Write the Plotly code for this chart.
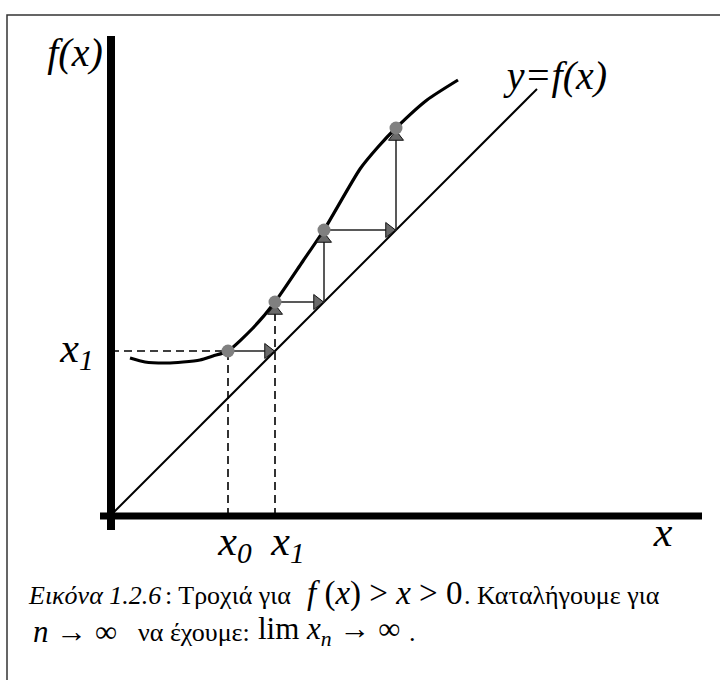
import plotly.graph_objects as go

# Curve y = f(x), sampled points (arbitrary units)
curve_x = [0.17, 0.32, 0.54, 0.70, 0.87, 1.00, 1.15, 1.40, 1.62, 1.90, 2.11, 2.47, 2.65, 2.83, 3.14, 3.45]
curve_y = [1.55, 1.51, 1.50, 1.51, 1.53, 1.57, 1.62, 1.85, 2.11, 2.52, 2.83, 3.44, 3.66, 3.85, 4.13, 4.33]

# Orbit x0, x1, x2, ... of the iteration x_{n+1} = f(x_n)
orbit = [1.15, 1.62, 2.11, 2.83, 3.85]

# End of the diagonal y = x
diag_end = 4.24

# Axis labels
label_text = ["<i>f(x)</i>", "<i>y=f(x)</i>", "<i>x<sub>1</sub></i>",
              "<i>x<sub>0</sub></i>", "<i>x<sub>1</sub></i>", "<i>x</i>"]

SERIF = "Liberation Serif"

fig = go.Figure()


def seg(xs, ys, **line):
    fig.add_trace(go.Scatter(x=xs, y=ys, mode="lines", line=line, hoverinfo="skip"))


# Frame around the figure and caption (left and top edges)
seg([-1.06, -1.06, 6.07], [-1.67, 4.98, 4.98], color="#333333", width=1.5)

# Thick coordinate axes
seg([-0.02, -0.02], [-0.17, 4.77], color="black", width=8)
seg([-0.13, 5.89], [-0.03, -0.03], color="black", width=7)

# Diagonal y = x
seg([0, diag_end], [0, diag_end], color="black", width=2)

# Curve
seg(curve_x, curve_y, color="black", width=3.2, shape="spline", smoothing=0.6)

# Dashed guides for x0 and x1
x0, x1 = orbit[0], orbit[1]
dash = dict(color="black", width=1.6, dash="8px,5px")
seg([-0.02, x0], [x1, x1], **dash)
seg([x0, x0], [-0.03, x1], **dash)
seg([x1, x1], [-0.03, orbit[2]], **dash)

# Cobweb steps: horizontal to the diagonal, then vertical back to the curve
step = dict(color="#222222", width=1.5)
for k in range(3):
    a, b = orbit[k], orbit[k + 1]
    seg([a, b], [b, b], **step)
for k in range(2, 4):
    a, b = orbit[k], orbit[k + 1]
    seg([a, a], [a, b], **step)

# Arrow heads
off = 0.07
tri_style = dict(size=13, color="#6a6a6a", line=dict(color="#111111", width=1))
fig.add_trace(go.Scatter(x=[v - off for v in orbit[1:4]], y=orbit[1:4],
                         mode="markers", marker=dict(symbol="triangle-right", **tri_style),
                         hoverinfo="skip"))
fig.add_trace(go.Scatter(x=orbit[1:4], y=[v - 0.09 for v in orbit[2:5]],
                         mode="markers", marker=dict(symbol="triangle-up", **tri_style),
                         hoverinfo="skip"))

# Orbit points on the curve
fig.add_trace(go.Scatter(x=orbit[:4], y=orbit[1:5], mode="markers",
                         marker=dict(size=13, color="#808080"), hoverinfo="skip"))

# Axis labels as text marks
fig.add_trace(go.Scatter(
    x=[-0.38, 4.44, -0.36, 1.22, 1.75, 5.50],
    y=[4.57, 4.34, 1.62, -0.31, -0.31, -0.22],
    mode="text", text=label_text, textposition="middle center",
    textfont=dict(family=SERIF, size=[40, 40, 42, 42, 42, 42], color="black"),
    hoverinfo="skip"))


def caption(text, px, py, size):
    fig.add_annotation(xref="paper", yref="paper", x=px / 720, y=1 - py / 680, text=text,
                       showarrow=False, xanchor="left", yanchor="middle",
                       font=dict(family=SERIF, size=size, color="black"))


# Caption, line 1
caption("<i>Εικόνα 1.2.6</i>", 26, 595, 26)
caption(": Τροχιά για", 163, 595, 26)
caption("<i>f</i> (<i>x</i>) &gt; <i>x</i> &gt; 0", 305, 593, 33)
caption(". Καταλήγουμε για", 462, 595, 26)
# Caption, line 2
caption("<i>n</i> → ∞", 31, 631, 31)
caption("να έχουμε:", 136, 632, 26)
caption("lim <i>x<sub>n</sub></i> → ∞", 256, 631, 31)
caption(".", 407, 632, 26)

fig.update_layout(
    width=720, height=680,
    margin=dict(l=0, r=0, t=0, b=0),
    plot_bgcolor="white",
    showlegend=False,
    xaxis=dict(range=[-1.13, 6.07], visible=False),
    yaxis=dict(range=[-1.67, 5.13], visible=False),
)

fig.write_html("out.html")
